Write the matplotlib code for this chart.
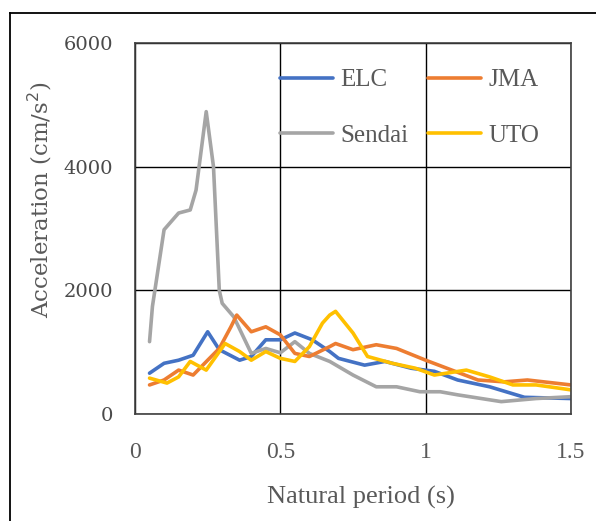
import matplotlib
matplotlib.use("Agg")
import matplotlib.pyplot as plt
from matplotlib.lines import Line2D

# periods (s) and spectral acceleration (cm/s^2)
elc_t = [0.05, 0.10, 0.15, 0.20, 0.25, 0.29, 0.36, 0.40, 0.45, 0.50, 0.55, 0.61,
         0.67, 0.70, 0.79, 0.86, 0.95, 1.03, 1.11, 1.22, 1.34, 1.50]
elc_a = [660, 820, 870, 950, 1330, 1040, 870, 930, 1200, 1200, 1310, 1200,
         1010, 900, 790, 850, 740, 690, 550, 440, 270, 250]

jma_t = [0.05, 0.10, 0.15, 0.20, 0.25, 0.29, 0.33, 0.35, 0.40, 0.45, 0.50, 0.55,
         0.60, 0.67, 0.69, 0.75, 0.83, 0.90, 1.00, 1.09, 1.18, 1.27, 1.35, 1.50]
jma_a = [470, 550, 710, 630, 870, 1060, 1410, 1600, 1330, 1410, 1280, 980,
         930, 1090, 1140, 1040, 1120, 1060, 870, 710, 550, 520, 550, 470]

sendai_t = [0.05, 0.06, 0.10, 0.15, 0.19, 0.21, 0.245, 0.27, 0.29, 0.30, 0.34,
            0.40, 0.45, 0.50, 0.55, 0.60, 0.67, 0.75, 0.83, 0.90, 0.98, 1.05,
            1.11, 1.26, 1.38, 1.50]
sendai_a = [1170, 1740, 2980, 3250, 3300, 3620, 4890, 4000, 2000, 1790, 1570,
            980, 1060, 990, 1170, 980, 850, 630, 440, 440, 360, 360,
            310, 200, 250, 280]

uto_t = [0.05, 0.11, 0.15, 0.19, 0.245, 0.31, 0.36, 0.40, 0.45, 0.50, 0.55, 0.60,
         0.645, 0.67, 0.69, 0.75, 0.80, 0.885, 0.965, 1.03, 1.14, 1.22, 1.30,
         1.38, 1.50]
uto_a = [580, 500, 600, 850, 710, 1140, 1010, 870, 1010, 900, 850, 1090,
         1470, 1600, 1660, 1310, 930, 820, 740, 630, 710, 600, 470,
         470, 390]

# legend is filled column by column: ELC/Sendai, then JMA/UTO
series = [("ELC", elc_t, elc_a, "#4472C4"),
          ("Sendai", sendai_t, sendai_a, "#A5A5A5"),
          ("JMA", jma_t, jma_a, "#ED7D31"),
          ("UTO", uto_t, uto_a, "#FFC000")]

serif = "Liberation Serif"
txtc = "#595959"

W, H = 596, 521
fig = plt.figure(figsize=(W / 100, H / 100), dpi=100)
ax = fig.add_axes([135 / W, 1 - 414 / H, 436 / W, 371 / H])

for name, t, a, c in series:
    ax.plot(t, a, color=c, lw=2.6, label=name, solid_joinstyle="round",
            solid_capstyle="round")

ax.set_xlim(0, 1.5)
ax.set_ylim(0, 6000)
ax.set_xticks([0, 0.5, 1.0, 1.5])
ax.set_xticklabels(["0", "0.5", "1", "1.5"], family=serif, fontsize=17, color=txtc)
ax.set_yticks([0, 2000, 4000, 6000])
ax.set_yticklabels(["0", "2000", "4000", "6000"], family="DejaVu Serif", fontsize=14,
                   color="#4a4a4a")
ax.tick_params(axis="x", length=0, pad=20)
ax.tick_params(axis="y", length=0, pad=16)
ax.grid(True, color="black", lw=1)
for s in ax.spines.values():
    s.set_color("#404040")
    s.set_linewidth(1.2)

fig.text(361 / W, 1 - 497 / H, "Natural period (s)", family=serif, fontsize=19,
         color=txtc, ha="center", va="center")
fig.text(40 / W, 1 - 200 / H, "Acceleration (cm/s$^2$)", family="DejaVu Serif",
         fontsize=16.5, color=txtc, ha="center", va="center", rotation=90)

leg = ax.legend(ncol=2, loc="upper left", bbox_to_anchor=(280 / W, 1 - 69 / H),
                bbox_transform=fig.transFigure, frameon=False, borderpad=0,
                borderaxespad=0, prop={"family": serif, "size": 18},
                handlelength=2.1, columnspacing=0.8, labelspacing=1.3,
                handletextpad=0.3)
for txt in leg.get_texts():
    txt.set_color(txtc)

# outer border of the picture (left and top edges only)
fig.add_artist(Line2D([10 / W, 10 / W], [0, 1 - 13 / H], transform=fig.transFigure,
                      color="black", lw=1.3))
fig.add_artist(Line2D([10 / W, 1], [1 - 13 / H, 1 - 13 / H], transform=fig.transFigure,
                      color="black", lw=1.3))

fig.savefig("out.png", dpi=100)
